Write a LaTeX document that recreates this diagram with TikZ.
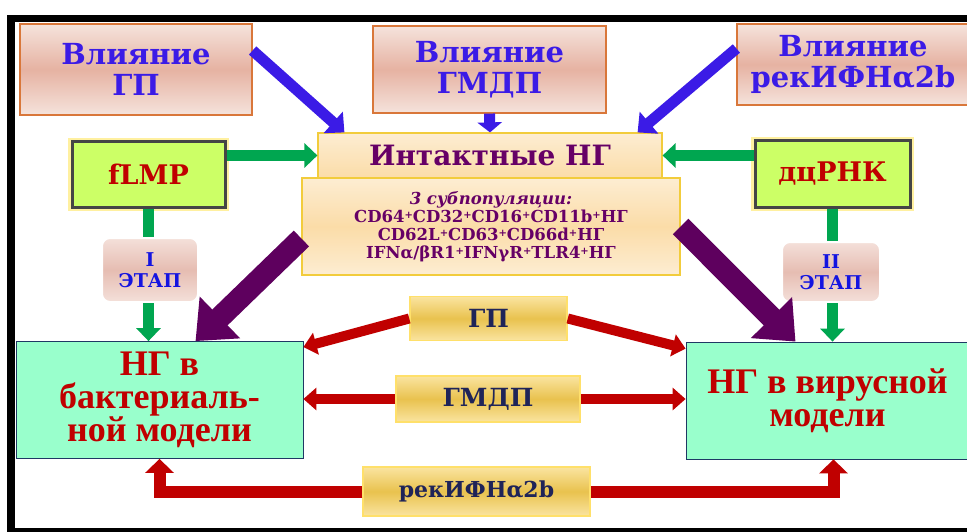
\documentclass[tikz,border=0pt]{standalone}
\usepackage{fontspec}
\setmainfont{DejaVu Serif}
\newfontfamily\modelfont{Liberation Serif}
\usetikzlibrary{arrows.meta}

\definecolor{vblue}{HTML}{3B1BE6}
\definecolor{infline}{HTML}{D9773A}
\definecolor{pinktop}{HTML}{F5E3DC}
\definecolor{pinkmid}{HTML}{E6B2A2}
\definecolor{intline}{HTML}{F2CC3C}
\definecolor{inttop}{HTML}{FDEDD2}
\definecolor{intmid}{HTML}{FBDCA8}
\definecolor{plum}{HTML}{660066}
\definecolor{lime}{HTML}{CCFF66}
\definecolor{limeline}{HTML}{454545}
\definecolor{glow}{HTML}{FFF0A0}
\definecolor{stagetop}{HTML}{F4E0DA}
\definecolor{stagemid}{HTML}{E6BDB2}
\definecolor{stageblue}{HTML}{1414E0}
\definecolor{mint}{HTML}{99FFCC}
\definecolor{mintline}{HTML}{1F3864}
\definecolor{dred}{HTML}{C00000}
\definecolor{goldtop}{HTML}{FAE4A0}
\definecolor{goldmid}{HTML}{E9C24E}
\definecolor{goldline}{HTML}{FFE06A}
\definecolor{navy}{HTML}{1F2458}
\definecolor{ggreen}{HTML}{00A650}
\definecolor{purp}{HTML}{5E005E}

% small raised plus for the marker lines
\newcommand{\pl}{\raisebox{0.45ex}{\fontsize{10}{10}\selectfont+}}

\begin{document}
\begin{tikzpicture}[x=1pt,y=-1pt,
  infl/.style={draw=infline,line width=1.2pt,top color=pinktop,bottom color=pinktop,middle color=pinkmid,
    text=vblue,font=\fontsize{29}{31}\bfseries\selectfont,align=center,inner sep=0pt},
  intact/.style={draw=intline,line width=1.2pt,top color=inttop,bottom color=intmid,
    text=plum,inner sep=0pt},
  agent/.style={draw=limeline,line width=3pt,fill=lime,text=dred,inner sep=0pt,
    font=\fontsize{27}{30}\bfseries\selectfont,preaction={draw=glow,line width=8pt}},
  stage/.style={draw=white,line width=2pt,rounded corners=8pt,top color=stagetop,bottom color=stagetop,
    middle color=stagemid,text=stageblue,align=center,inner sep=0pt,
    font=\fontsize{19}{21}\bfseries\selectfont},
  model/.style={draw=mintline,line width=0.8pt,fill=mint,text=dred,align=center,inner sep=0pt,
    font=\modelfont\fontsize{36}{33}\bfseries\selectfont},
  drug/.style={draw=goldline,line width=1.5pt,top color=goldtop,bottom color=goldtop,middle color=goldmid,
    text=navy,inner sep=0pt,font=\fontsize{25}{25}\bfseries\selectfont},
  barrow/.style={draw=vblue,line width=11pt,-{Triangle[width=28pt,length=15pt]}},
  garrow/.style={draw=ggreen,line width=11pt,-{Triangle[width=24pt,length=13pt]}},
  parrow/.style={draw=purp,line width=22pt,-{Triangle[width=56pt,length=34pt]}},
  rarrow/.style={draw=dred,line width=10pt,-{Triangle[width=22pt,length=13pt]}}]
\useasboundingbox (0,0) rectangle (967,532);
\fill[white] (0,0) rectangle (967,532);
% frame
\fill[black] (7,15) rectangle (967,22);
\fill[black] (7,15) rectangle (15,532);
\fill[black] (7,528) rectangle (967,532);

% influence boxes
\node[infl,minimum width=232pt,minimum height=91pt] (vgp) at (136,69.5) {Влияние\\ГП};
\node[infl,minimum width=233pt,minimum height=87pt] (vgmdp) at (489.5,69.5) {Влияние\\ГМДП};
\node[infl,minimum width=232pt,minimum height=81pt] (vrek) at (853,64.5) {Влияние\\рекИФНα2b};

% intact neutrophils
\node[intact,minimum width=344pt,minimum height=45pt,font=\fontsize{28}{30}\bfseries\selectfont] (intakt) at (490,155.5) {Интактные НГ};
\node[intact,minimum width=378pt,minimum height=97pt,top color=inttop,bottom color=inttop,middle color=intmid,
  align=center,font=\fontsize{16.5}{18}\bfseries\selectfont] (subpop) at (491,226.5)
  {\textit{3 субпопуляции:}\\CD64\pl CD32\pl CD16\pl CD11b\pl НГ\\
   CD62L\pl CD63\pl CD66d\pl НГ\\
   IFNα/βR1\pl IFNγR\pl TLR4\pl НГ};

% inducers
\node[agent,minimum width=153pt,minimum height=65pt] (flmp) at (148.5,174.5) {fLMP};
\node[agent,minimum width=155pt,minimum height=66pt] (dcrnk) at (832.5,174) {дцРНК};

% stages
\node[stage,minimum width=96pt,minimum height=64pt] (etap1) at (150,270) {I\\ЭТАП};
\node[stage,minimum width=98pt,minimum height=60pt] (etap2) at (831,272) {II\\ЭТАП};

% models
\node[model,minimum width=287pt,minimum height=117pt] (mbac) at (159.5,400) {НГ в\\бактериаль-\\ной модели};
\node[model,minimum width=283pt,minimum height=117pt] (mvir) at (827.5,400.5) {НГ в вирусной\\модели};

% preparations
\node[drug,minimum width=157pt,minimum height=44pt] (gp) at (488.5,318.5) {ГП};
\node[drug,minimum width=184pt,minimum height=46pt] (gmdp) at (488,399) {ГМДП};
\node[drug,minimum width=227pt,minimum height=49pt,font=\fontsize{22}{25}\bfseries\selectfont] (rek) at (476.5,491.5) {рекИФНα2b};

% influence arrows
\draw[barrow] ([yshift=19pt]vgp.east) -- ([xshift=27pt]intakt.north west);
\draw[barrow,-{Triangle[width=24pt,length=10pt]}] (vgmdp.south) -- (intakt.north);
\draw[barrow] ([yshift=16pt]vrek.west) -- ([xshift=-25pt]intakt.north east);

% inducer arrows
\draw[garrow] (flmp.east |- intakt.west) -- (intakt.west);
\draw[garrow] (dcrnk.west |- intakt.east) -- (intakt.east);
\draw[garrow,-] (flmp.south) -- (etap1.north -| flmp.south);
\draw[garrow] (etap1.south -| flmp.south) -- (flmp.south |- mbac.north);
\draw[garrow,-] (dcrnk.south) -- (etap2.north -| dcrnk.south);
\draw[garrow] (etap2.south -| dcrnk.south) -- (dcrnk.south |- mvir.north);

% subpopulations to models
\draw[parrow] ([yshift=-12pt]subpop.west) -- ([xshift=36pt]mbac.north);
\draw[parrow] (subpop.east) -- ([xshift=-32pt]mvir.north);

% preparations to models
\draw[rarrow] (gp.west) -- ([yshift=-6pt]mbac.north east);
\draw[rarrow] (gp.east) -- ([yshift=-7pt]mvir.north west);
\draw[rarrow] (gmdp.west) -- (mbac.east |- gmdp.west);
\draw[rarrow] (gmdp.east) -- (mvir.west |- gmdp.west);
\draw[rarrow,line width=12pt,-{Triangle[width=28pt,length=14pt]}] (rek.west) -| (mbac.south);
\draw[rarrow,line width=12pt,-{Triangle[width=28pt,length=14pt]}] (rek.east) -| ([xshift=6pt]mvir.south);
\end{tikzpicture}
\end{document}
